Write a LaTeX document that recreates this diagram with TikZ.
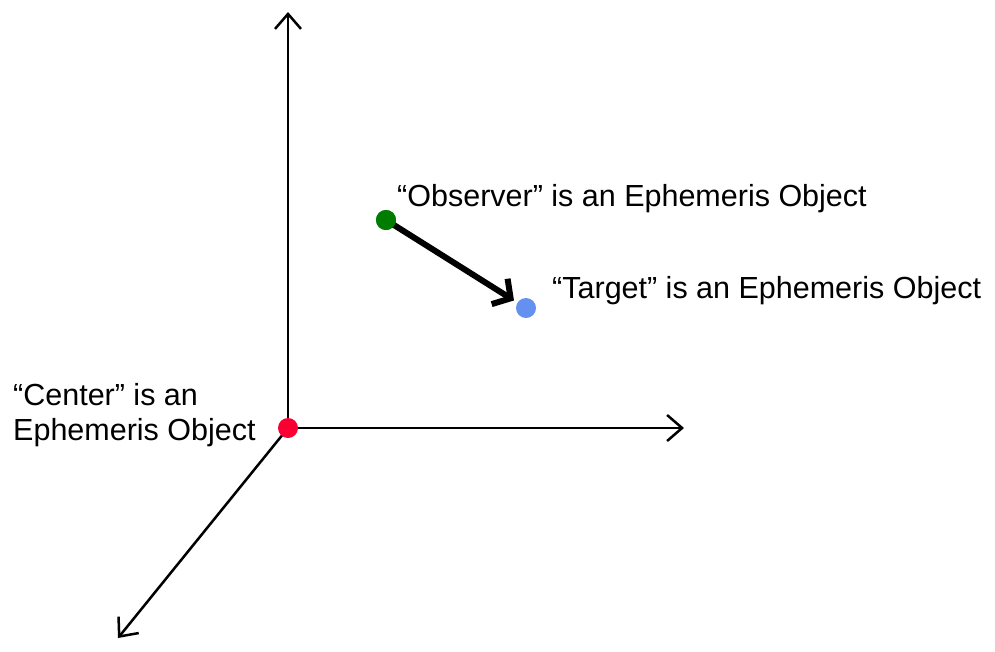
\documentclass[tikz,border=0pt]{standalone}
\usepackage{fontspec}
\setmainfont{Liberation Sans}
\usetikzlibrary{arrows.meta}

\definecolor{centerred}{RGB}{250,0,50}
\definecolor{observergreen}{RGB}{0,125,0}
\definecolor{targetblue}{RGB}{100,145,240}

\tikzset{
    axis/.style={line width=2.5pt, -{Straight Barb[length=15pt,width=26pt,line width=2.5pt]}},
    dot/.style={circle, fill, inner sep=0pt, minimum size=20pt},
    label/.style={font=\fontsize{30.5}{35}\selectfont, inner sep=0pt, align=left}
}

\begin{document}
\begin{tikzpicture}[x=1pt, y=-1pt]
    \useasboundingbox (0,0) rectangle (995,651);

    % Coordinate axes
    \coordinate (up) at (288,12);
    \coordinate (right) at (684,428);
    \coordinate (front) at (118,638);
    \draw[axis] (288,428) -- (up);
    \draw[axis] (288,428) -- (right);
    \draw[axis] (288,428) -- (front);

    % Ephemeris objects
    \node[dot, centerred] (center) at (288,428) {};
    \node[dot, observergreen] (observer) at (386,220) {};
    \node[dot, targetblue] (target) at (526,308) {};

    % Observer to target
    \draw[line width=6pt, -{Straight Barb[length=13pt,width=30pt,line width=6pt]}, shorten >=4pt]
        (observer.center) -- (target);
    \node[dot, observergreen] at (observer) {};

    % Labels
    \node[label, anchor=base west] (obslabel) at (397,206) {“Observer” is an Ephemeris Object};
    \node[label, anchor=base west] (tgtlabel) at (552,298) {“Target” is an Ephemeris Object};
    \node[label, anchor=base west] (cenlabel) at (13,440) {“Center” is an\\Ephemeris Object};
\end{tikzpicture}
\end{document}
